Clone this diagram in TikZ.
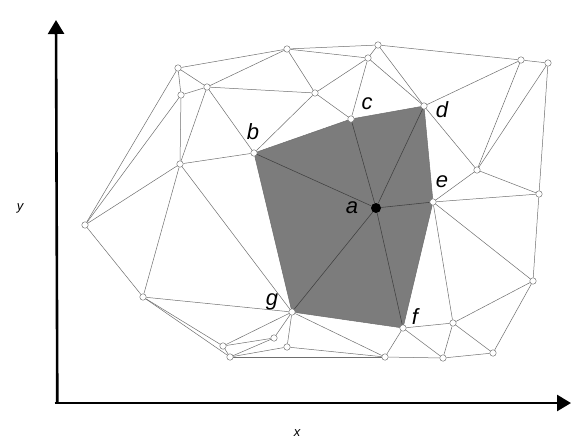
\documentclass[tikz,border=0pt]{standalone}
\usepackage{fontspec}
\setmainfont{Liberation Sans}
\usetikzlibrary{backgrounds,arrows.meta}
\definecolor{regiongray}{HTML}{7C7C7C}
\definecolor{mesh}{HTML}{6E6E6E}
\begin{document}
\begin{tikzpicture}[x=1pt,y=-1pt,
  vtx/.style={circle,draw=mesh,fill=white,inner sep=0pt,minimum size=6.5pt,line width=0.45pt},
  ctr/.style={circle,fill=black,inner sep=0pt,minimum size=10pt},
  lbl/.style={font=\fontsize{22}{22}\selectfont\itshape,inner sep=0pt},
  axlbl/.style={font=\fontsize{13}{13}\selectfont\itshape,inner sep=0pt},
  edge/.style={draw=mesh,line width=0.5pt},
  inner/.style={draw=black!75,line width=0.55pt},
  axis/.style={line width=2.6pt,-{Triangle[length=14pt,width=16pt]}}]
\useasboundingbox (0,0) rectangle (571,440);
% vertices
\node[vtx] (n1) at (178,68) {};
\node[vtx] (n2) at (287,49) {};
\node[vtx] (n3) at (378,45) {};
\node[vtx] (n4) at (368,58) {};
\node[vtx] (n5) at (207,87) {};
\node[vtx] (n6) at (181,95) {};
\node[vtx] (n7) at (315,93) {};
\node[vtx] (c) at (351,119) {};
\node[vtx] (d) at (424,106) {};
\node[vtx] (n8) at (521,60) {};
\node[vtx] (n9) at (548,63) {};
\node[vtx] (b) at (254,153) {};
\node[vtx] (n10) at (180,164) {};
\node[vtx] (n11) at (85,225) {};
\node[vtx] (n12) at (477,170) {};
\node[vtx] (e) at (433,202) {};
\node[vtx] (n13) at (539,194) {};
\node[ctr] (a) at (376,208) {};
\node[vtx] (n14) at (533,281) {};
\node[vtx] (n15) at (143,297) {};
\node[vtx] (g) at (292,312) {};
\node[vtx] (f) at (403,328) {};
\node[vtx] (n16) at (453,323) {};
\node[vtx] (n17) at (223,346) {};
\node[vtx] (n18) at (274,338) {};
\node[vtx] (n19) at (287,347) {};
\node[vtx] (n20) at (230,357) {};
\node[vtx] (n21) at (385,357) {};
\node[vtx] (n22) at (443,358) {};
\node[vtx] (n23) at (493,353) {};
\begin{scope}[on background layer]
\fill[regiongray] (b.center) -- (c.center) -- (d.center) -- (e.center) -- (f.center) -- (g.center) -- cycle;
\foreach \u/\v in {n1/n2,n1/n6,n1/n5,n1/n11,n6/n5,n6/n10,n6/n11,n5/n2,n5/n7,n5/b,n5/n10,
  n2/n7,n2/n3,n2/n4,n7/n4,n7/c,n7/b,n3/n4,n3/d,n3/n8,n4/c,n4/d,
  b/c,c/d,d/e,e/f,f/g,g/b,
  n10/b,n10/n11,n10/n15,n10/g,n11/n15,n15/g,n15/n17,n15/n20,
  n17/g,n17/n18,n17/n20,n20/n18,n20/n19,n20/n21,n18/g,n19/g,g/n21,n19/n21,
  f/n21,f/n22,f/n16,d/n8,d/n12,n8/n9,n8/n12,n9/n12,n9/n13,
  n12/e,n12/n13,e/n13,e/n14,e/n16,n13/n14,n14/n16,n14/n23,
  n16/n22,n16/n23,n21/n22,n22/n23}
  \draw[edge] (\u) -- (\v);
\foreach \v in {b,c,d,e,f,g}
  \draw[inner] (a) -- (\v);
\end{scope}
% labels
\node[lbl] (lb) at (253,132) {b};
\node[lbl] (lc) at (367,104) {c};
\node[lbl] (ld) at (442,110) {d};
\node[lbl] (le) at (442,182) {e};
\node[lbl] (la) at (352,208) {a};
\node[lbl] (lf) at (415,317) {f};
\node[lbl] (lg) at (272,302) {g};
% axes
\coordinate (o) at (56,403);
\coordinate (ytip) at (56,20);
\coordinate (xtip) at (571,403);
\draw[axis] ([xshift=1.3pt]o) -- (ytip);
\draw[axis] ([xshift=-1.3pt]o) -- (xtip);
\node[axlbl] (ly) at (20,208) {y};
\node[axlbl] (lx) at (297,433) {x};
\end{tikzpicture}
\end{document}
